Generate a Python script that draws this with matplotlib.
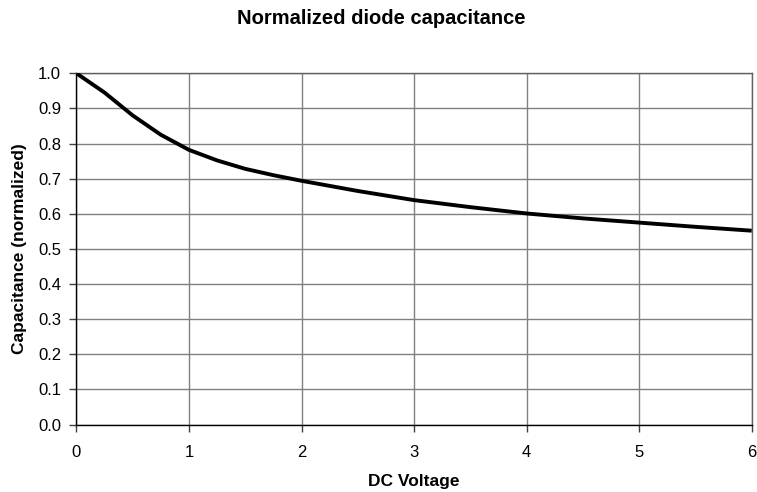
import matplotlib
matplotlib.use("Agg")
import matplotlib.pyplot as plt

voltage = [0, 0.25, 0.5, 0.75, 1.0, 1.25, 1.5, 1.75, 2.0, 2.5, 3.0, 3.5, 4.0, 4.5, 5.0, 5.5, 6.0]
capacitance = [1.0, 0.945, 0.88, 0.825, 0.782, 0.752, 0.728, 0.71, 0.694, 0.665, 0.639, 0.619, 0.601, 0.587, 0.575, 0.563, 0.552]
x_ticks = [0, 1, 2, 3, 4, 5, 6]
y_ticks = [0.0, 0.1, 0.2, 0.3, 0.4, 0.5, 0.6, 0.7, 0.8, 0.9, 1.0]

plt.rcParams['font.family'] = ['Liberation Sans', 'DejaVu Sans']

fig = plt.figure(figsize=(7.57, 4.92), dpi=100)
ax = fig.add_axes([0.101, 0.137, 0.892, 0.714])

ax.plot(voltage, capacitance, color='black', lw=2.8, solid_capstyle='butt', zorder=3)

ax.set_xlim(0, 6)
ax.set_ylim(0, 1.0)
ax.set_xticks(x_ticks)
ax.set_yticks(y_ticks)
ax.set_xticklabels([str(t) for t in x_ticks])
ax.set_yticklabels([f"{t:.1f}" for t in y_ticks])
ax.grid(True, color='#808080', lw=1.0)
ax.set_axisbelow(True)
ax.tick_params(direction='out', length=5, width=1, colors='#404040', labelcolor='black', labelsize=12)
ax.tick_params(axis='x', pad=10)
ax.tick_params(axis='y', pad=6)
for s in ['left', 'bottom']:
    ax.spines[s].set_color('black')
    ax.spines[s].set_linewidth(1.0)
for s in ['top', 'right']:
    ax.spines[s].set_color('#606060')
    ax.spines[s].set_linewidth(1.0)

ax.set_xlabel('DC Voltage', fontsize=12.5, fontweight='bold', labelpad=10)
ax.set_ylabel('Capacitance (normalized)', fontsize=12.5, fontweight='bold', labelpad=8)
fig.text(0.504, 0.963, 'Normalized diode capacitance', ha='center', va='center', fontsize=14.5, fontweight='bold')

fig.savefig('out.png', dpi=100)
